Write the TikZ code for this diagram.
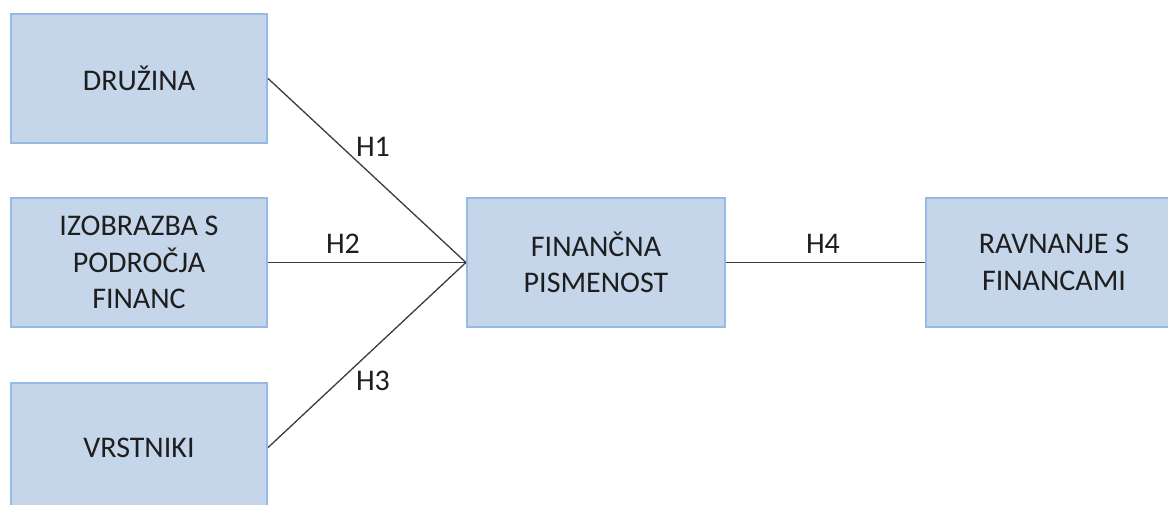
\documentclass[tikz,border=0pt]{standalone}
\usepackage{fontspec}
\setmainfont{Carlito}
\definecolor{boxfill}{RGB}{197,214,234}
\definecolor{boxline}{RGB}{150,186,228}
\definecolor{linkcol}{RGB}{60,60,60}
\definecolor{txt}{RGB}{30,30,30}
\begin{document}
\begin{tikzpicture}[x=1pt,y=-1pt,
  box/.style={draw=boxline,fill=boxfill,line width=2.2pt,minimum width=256pt,minimum height=129pt,
    align=center,inner sep=0pt,text=txt,font=\fontsize{30}{36.5}\selectfont},
  link/.style={draw=linkcol,line width=1.3pt},
  hlabel/.style={text=txt,font=\fontsize{30}{36}\selectfont,inner sep=0pt}]
\clip (0,0) rectangle (1168,504);
\fill[white] (0,0) rectangle (1168,504);
\node[box] (dru) at (139,78.5) {DRUŽINA};
\node[box] (izo) at (139,262.5) {IZOBRAZBA S\\PODROČJA\\FINANC};
\node[box] (vrs) at (139,447.5) {VRSTNIKI};
\node[box,minimum width=258pt] (fin) at (596,262.5) {FINANČNA\\PISMENOST};
\node[box] (rav) at (1054,262.5) {RAVNANJE S\\FINANCAMI};
\draw[link] (dru.east) -- (fin.west);
\draw[link] (izo.east) -- (fin.west);
\draw[link] (vrs.east) -- (fin.west);
\draw[link] (fin.east) -- (rav.west);
\node[hlabel] (h1) at (373,147) {H1};
\node[hlabel] (h2) at (343,244) {H2};
\node[hlabel] (h3) at (373,381) {H3};
\node[hlabel] (h4) at (823,244) {H4};
\end{tikzpicture}
\end{document}
